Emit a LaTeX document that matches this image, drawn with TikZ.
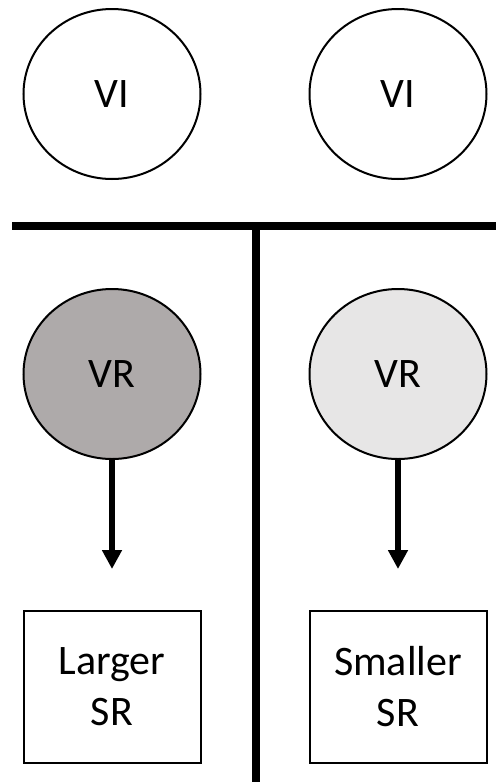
\documentclass[tikz,border=0pt]{standalone}
\usepackage{fontspec}
\setmainfont{Carlito}
\usepackage{tikz}
\usetikzlibrary{shapes.geometric,arrows.meta}
\definecolor{vrdark}{RGB}{174,170,170}
\definecolor{vrlight}{RGB}{231,230,230}
\tikzset{
    every node/.style={draw, line width=2pt, font=\fontsize{42}{51}\selectfont}
}
\tikzset{
    state/.style={ellipse, minimum width=177pt, minimum height=170pt},
    srbox/.style={rectangle, minimum width=177pt, minimum height=152pt,
    	align=center}
}
\tikzset{
    divider/.style={line width=7.5pt},
    feed/.style={line width=5.5pt, -{Triangle[width=19pt,length=19pt]}}
}

\begin{document}
\begin{tikzpicture}
  \useasboundingbox (0pt, 0pt) rectangle (496pt, -782pt);

  \node (vi1) [state] at (112pt, -94pt) {VI};
  \node (vi2) [state] at (398pt, -94pt) {VI};

  \node (vr1) [state, fill=vrdark] at (112pt, -374pt) {VR};
  \node (vr2) [state, fill=vrlight] at (398pt, -374pt) {VR};

  \node (sr1) [srbox] at (112pt, -687pt) {Larger\\SR};
  \node (sr2) [srbox] at (398pt, -687pt) {Smaller\\SR};

  \coordinate (hl) at (12pt, -226pt);
  \coordinate (hr) at (496pt, -226pt);
  \coordinate (vt) at (256pt, -226pt);
  \coordinate (vb) at (256pt, -782pt);
  \coordinate (t1) at (112pt, -569pt);
  \coordinate (t2) at (398pt, -569pt);

  \draw[divider] (hl) -- (hr); \draw[divider] (vt) -- (vb);
  \draw[feed] (vr1.south) -- (t1); \draw[feed] (vr2.south) -- (t2);
\end{tikzpicture}
\end{document}
